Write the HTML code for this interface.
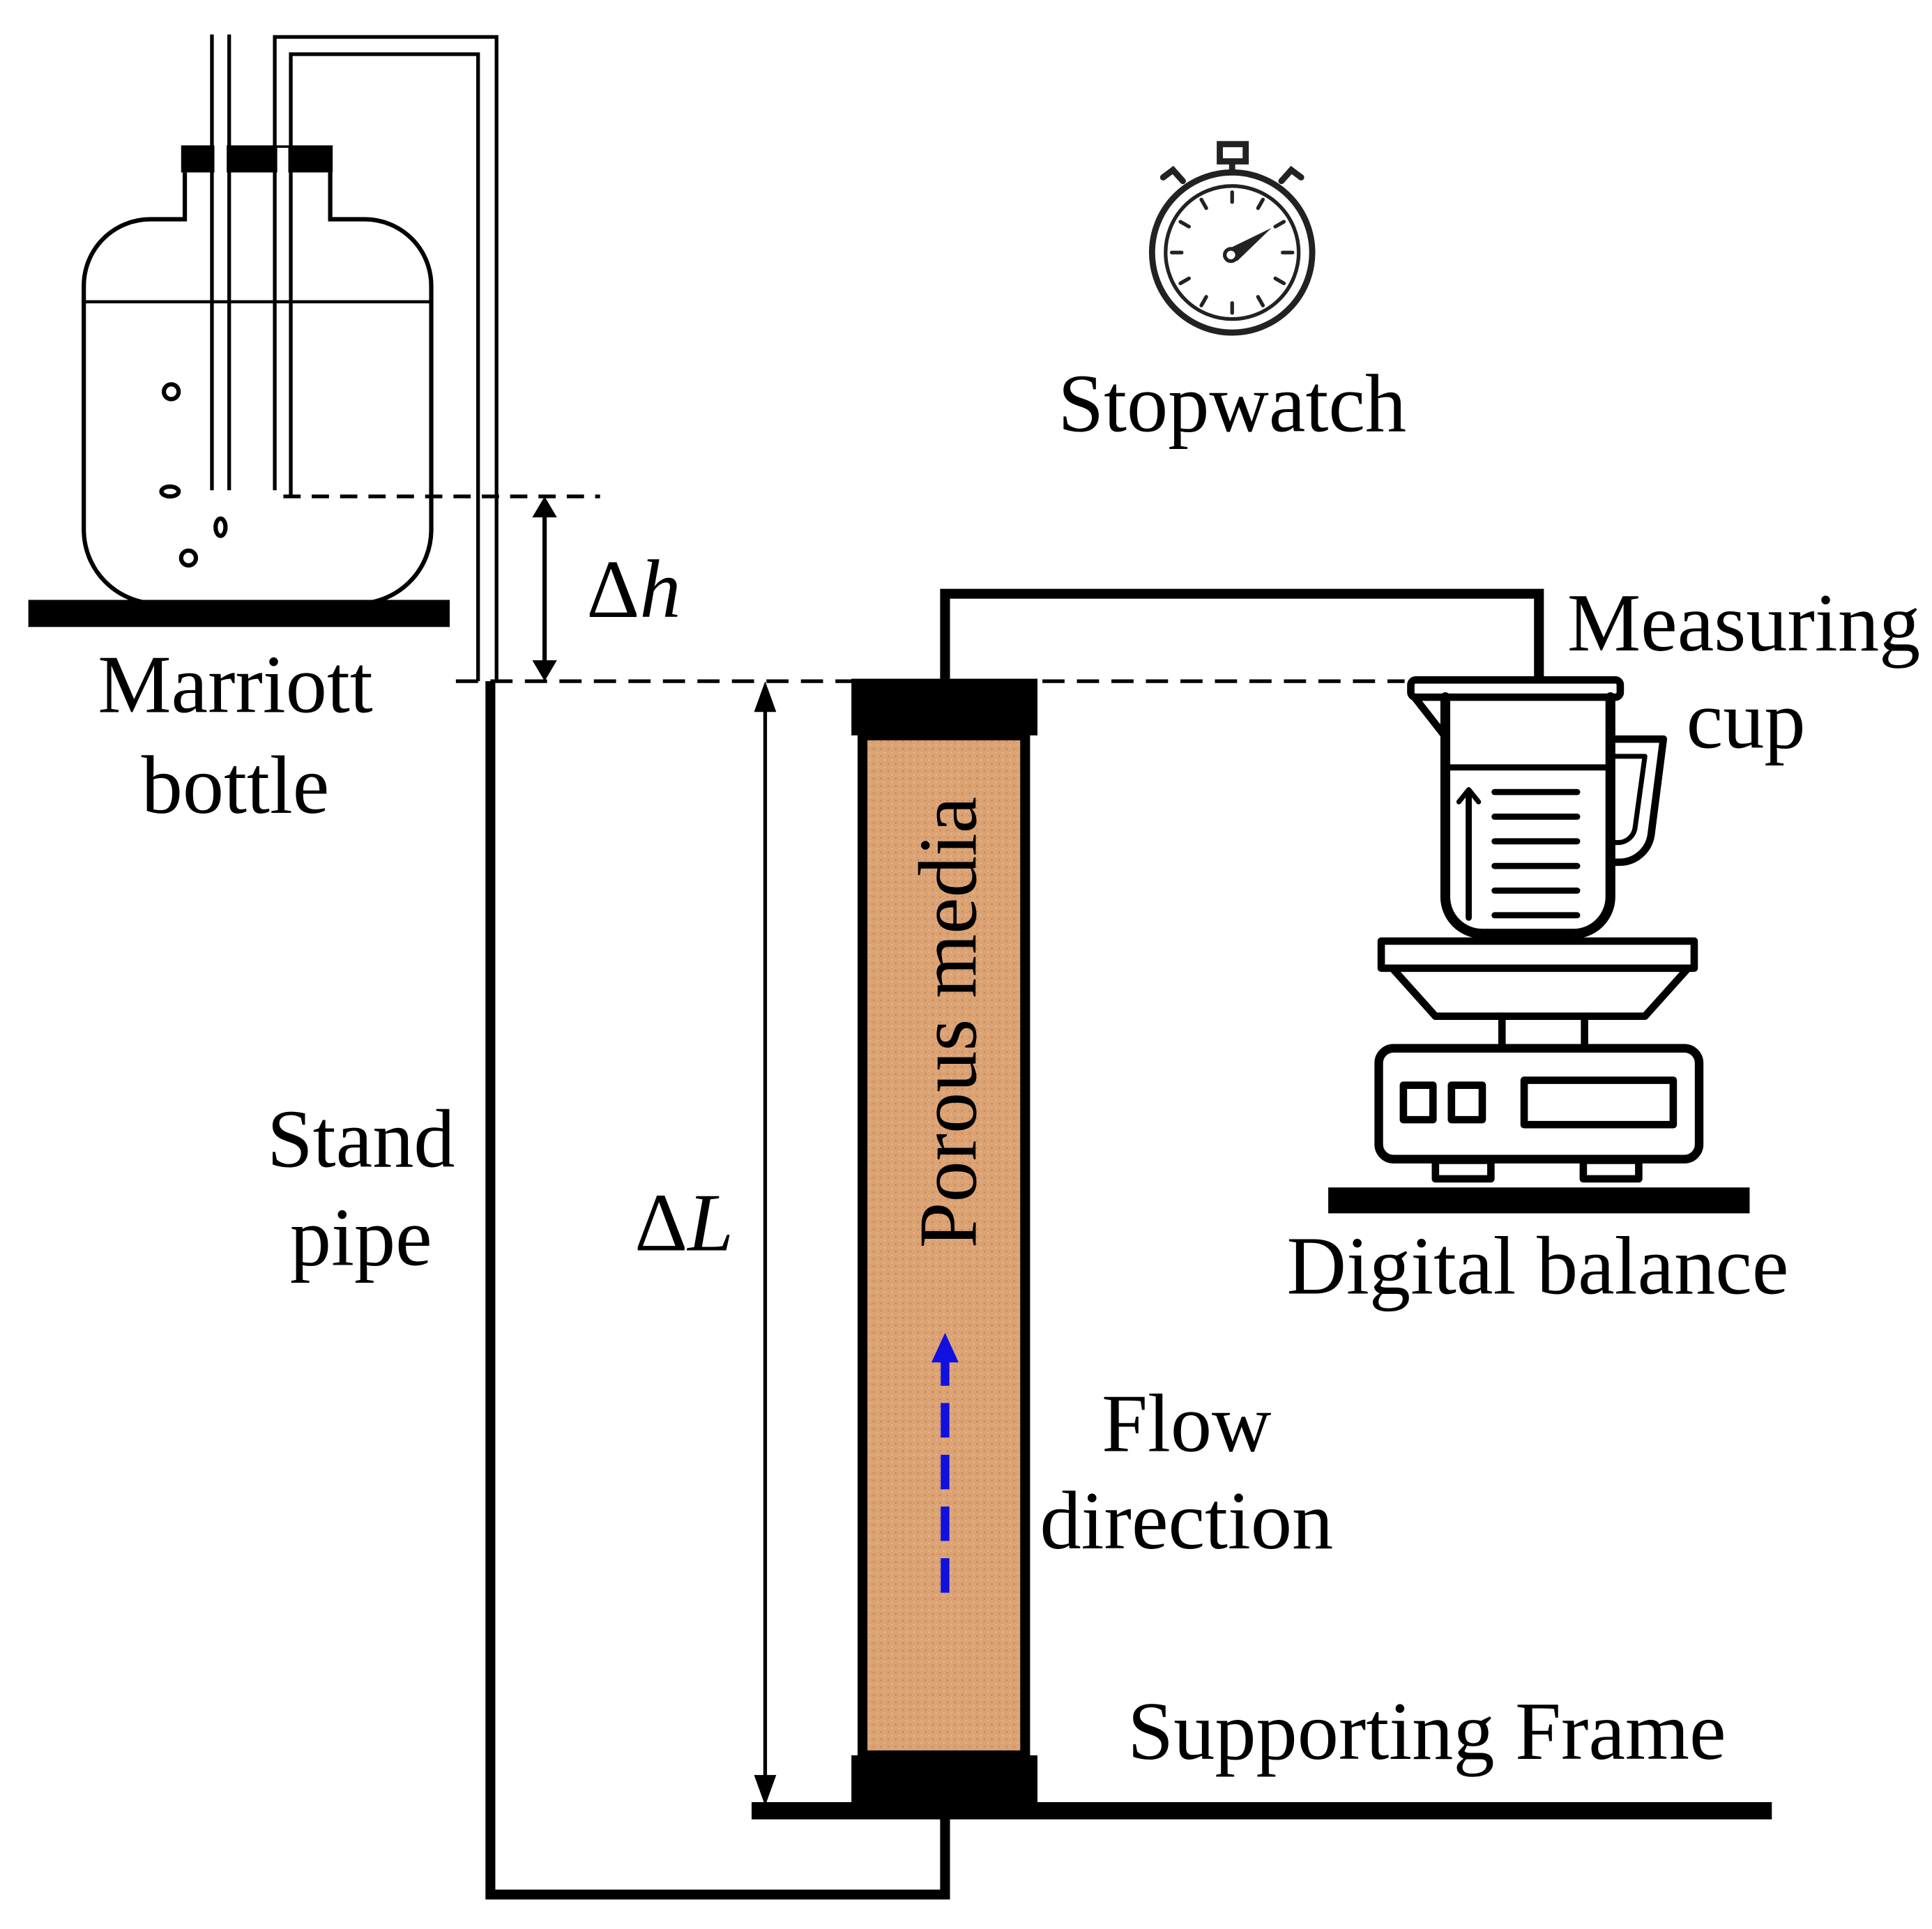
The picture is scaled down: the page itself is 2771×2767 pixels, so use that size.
<!DOCTYPE html>
<html><head><meta charset="utf-8"><style>
html,body{margin:0;padding:0;background:#fff;}
svg{display:block;}
text{font-family:"Liberation Serif",serif;font-size:67px;fill:#000;}
</style></head><body>
<svg width="2771" height="2767" viewBox="0 0 1568 1566" preserveAspectRatio="none" xmlns="http://www.w3.org/2000/svg">
<defs>
<pattern id="sand" width="6" height="6" patternUnits="userSpaceOnUse">
<rect width="6" height="6" fill="#dba274"/>
<circle cx="1" cy="2" r="0.8" fill="#c88a5a"/><circle cx="4" cy="5" r="0.7" fill="#e8b88a"/>
</pattern>
</defs>
<rect x="23" y="487" width="342" height="22" fill="#000"/>
<path d="M150 140 V178 H122 A54 54 0 0 0 68 232 V430 A60 60 0 0 0 128 490 H290 A60 60 0 0 0 350 430 V232 A54 54 0 0 0 296 178 H268 V140" fill="none" stroke="#000" stroke-width="3.5"/>
<rect x="147" y="118" width="123" height="22" fill="#000"/>
<line x1="68" y1="245" x2="350" y2="245" stroke="#000" stroke-width="2.5"/>
<rect x="174" y="110" width="10" height="35" fill="#fff"/>
<rect x="225" y="120" width="9" height="26" fill="#fff"/>
<line x1="172" y1="28" x2="172" y2="398" stroke="#000" stroke-width="3"/>
<line x1="186" y1="28" x2="186" y2="398" stroke="#000" stroke-width="3"/>
<path d="M223 398 V30 H403 V553" fill="none" stroke="#000" stroke-width="3"/>
<path d="M236 403 V44 H388 V553" fill="none" stroke="#000" stroke-width="3"/>
<circle cx="139" cy="318" r="6" fill="none" stroke="#000" stroke-width="3.5"/>
<ellipse cx="138" cy="399" rx="7" ry="4" fill="none" stroke="#000" stroke-width="3.5"/>
<ellipse cx="179" cy="428" rx="4" ry="7" fill="none" stroke="#000" stroke-width="3.5"/>
<circle cx="153" cy="453" r="6" fill="none" stroke="#000" stroke-width="3.5"/>
<line x1="230" y1="403" x2="487" y2="403" stroke="#000" stroke-width="3" stroke-dasharray="14 9"/>
<line x1="370" y1="553" x2="1140" y2="553" stroke="#000" stroke-width="3" stroke-dasharray="18 10"/>
<line x1="442" y1="415" x2="442" y2="541" stroke="#000" stroke-width="3.5"/>
<polygon points="442,403 432,420 452,420" fill="#000"/>
<polygon points="442,553 432,536 452,536" fill="#000"/>
<path d="M398 553 V1538 H767 V1465" fill="none" stroke="#000" stroke-width="8"/>
<line x1="621" y1="565" x2="621" y2="1455" stroke="#000" stroke-width="3"/>
<polygon points="621,553 612,578 630,578" fill="#000"/>
<polygon points="621,1466 612,1441 630,1441" fill="#000"/>
<rect x="610" y="1463" width="828" height="14" fill="#000"/>
<rect x="700" y="597" width="132" height="828" fill="url(#sand)" stroke="#000" stroke-width="8"/>
<rect x="691" y="551" width="151" height="46" fill="#000"/>
<rect x="691" y="1425" width="151" height="40" fill="#000"/>
<text transform="translate(792 830) rotate(-90)" text-anchor="middle" style="font-size:67px">Porous media</text>
<line x1="767" y1="1293" x2="767" y2="1105" stroke="#1010e0" stroke-width="7" stroke-dasharray="28 14"/>
<polygon points="767,1082 756,1106 778,1106" fill="#1010e0"/>
<path d="M767 551 V482 H1249 V553" fill="none" stroke="#000" stroke-width="8"/>
<g stroke="#000" fill="none" stroke-linecap="round" stroke-linejoin="round">
<rect x="1145" y="552" width="170" height="14" rx="4" stroke-width="6"/>
<path d="M1148 566 L1173 598" stroke-width="6"/>
<path d="M1173 566 V728 A30 30 0 0 0 1203 758 H1278 A30 30 0 0 0 1307 728 V566" stroke-width="8"/>
<line x1="1173" y1="623" x2="1307" y2="623" stroke-width="5"/>
<path d="M1307 600 H1350 L1340 678 A26 26 0 0 1 1314 700 H1307" stroke-width="6"/>
<path d="M1307 614 H1335 L1327 672 A14 14 0 0 1 1313 684 H1307" stroke-width="4"/>
<g stroke-width="5"><line x1="1213" y1="643" x2="1280" y2="643"/><line x1="1213" y1="663" x2="1280" y2="663"/><line x1="1213" y1="683" x2="1280" y2="683"/><line x1="1213" y1="703" x2="1280" y2="703"/><line x1="1213" y1="723" x2="1280" y2="723"/><line x1="1213" y1="743" x2="1280" y2="743"/></g>
<line x1="1192" y1="745" x2="1192" y2="645" stroke-width="5"/>
<path d="M1184 651 L1192 641 L1200 651" stroke-width="4"/>
<rect x="1121" y="764" width="254" height="22" stroke-width="6"/>
<path d="M1130 786 L1165 825 H1335 L1370 786" stroke-width="6"/>
<line x1="1219" y1="825" x2="1219" y2="850" stroke-width="6"/>
<line x1="1286" y1="825" x2="1286" y2="850" stroke-width="6"/>
<rect x="1119" y="851" width="260" height="90" rx="12" stroke-width="7"/>
<rect x="1139" y="881" width="24" height="28" stroke-width="6"/>
<rect x="1178" y="881" width="25" height="28" stroke-width="6"/>
<rect x="1237" y="877" width="121" height="36" stroke-width="6"/>
<rect x="1165" y="942" width="45" height="15" stroke-width="6"/>
<rect x="1285" y="942" width="45" height="15" stroke-width="6"/>
</g>
<rect x="1078" y="964" width="342" height="21" fill="#000"/>
<g stroke="#222" fill="none" stroke-linecap="round">
<circle cx="1000" cy="205" r="65" stroke-width="5"/>
<circle cx="1000" cy="205" r="54" stroke-width="3"/>
<rect x="990" y="117" width="21" height="14" stroke-width="5"/>
<line x1="1000" y1="131" x2="1000" y2="140" stroke-width="5"/>
<path d="M944 144 l8 -6 l8 9" stroke-width="5"/>
<path d="M1056 144 l-8 -6 l-8 9" stroke-width="5"/>
<g stroke-width="3">
<line x1="1000" y1="156" x2="1000" y2="164"/><line x1="1000" y1="246" x2="1000" y2="254"/>
<line x1="951" y1="205" x2="959" y2="205"/><line x1="1041" y1="205" x2="1049" y2="205"/>
<line x1="1025" y1="162" x2="1021" y2="169"/><line x1="975" y1="162" x2="979" y2="169"/>
<line x1="1025" y1="248" x2="1021" y2="241"/><line x1="975" y1="248" x2="979" y2="241"/>
<line x1="958" y1="180" x2="965" y2="184"/><line x1="1042" y1="230" x2="1035" y2="226"/>
<line x1="958" y1="230" x2="965" y2="226"/><line x1="1042" y1="180" x2="1035" y2="184"/>
</g>
</g>
<polygon points="995,203 1032,185 1004,212" fill="#222"/>
<circle cx="999" cy="207" r="5" fill="#fff" stroke="#222" stroke-width="3"/>
<text x="1000" y="350" text-anchor="middle">Stopwatch</text>
<text x="1272" y="528">Measuring</text>
<text x="1417" y="607" text-anchor="middle">cup</text>
<text x="191" y="578" text-anchor="middle">Marriott</text>
<text x="191" y="660" text-anchor="middle">bottle</text>
<text x="476" y="501">Δ<tspan font-style="italic">h</tspan></text>
<text x="293" y="947" text-anchor="middle">Stand</text>
<text x="293" y="1027" text-anchor="middle">pipe</text>
<text x="515" y="1015">Δ<tspan font-style="italic">L</tspan></text>
<text x="963" y="1178" text-anchor="middle">Flow</text>
<text x="963" y="1257" text-anchor="middle">direction</text>
<text x="1248" y="1050" text-anchor="middle">Digital balance</text>
<text x="1158" y="1428" text-anchor="middle">Supporting Frame</text>
</svg>
</body></html>
